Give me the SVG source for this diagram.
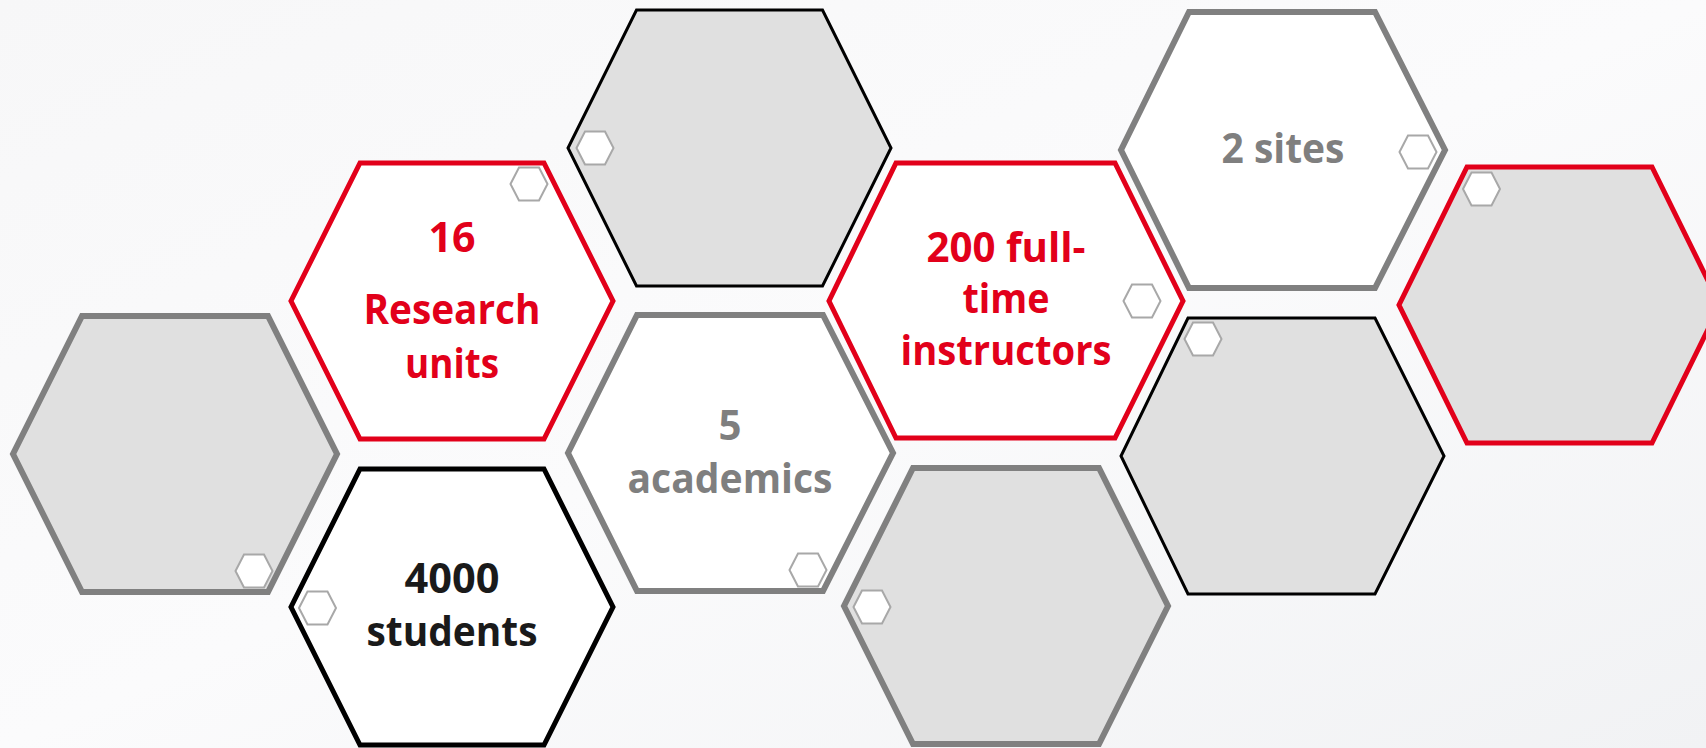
<svg xmlns="http://www.w3.org/2000/svg" xmlns:xlink="http://www.w3.org/1999/xlink" width="1706" height="748" viewBox="0 0 1706 748">
<defs>
<linearGradient id="bg" x1="0" y1="0" x2="1" y2="1">
<stop offset="0" stop-color="#f7f7f8"/>
<stop offset="0.5" stop-color="#fbfbfc"/>
<stop offset="1" stop-color="#f1f2f4"/>
</linearGradient>
<polygon id="ico" points="-18.5,0 -10,-16.5 10,-16.5 18.5,0 10,16.5 -10,16.5"/>
</defs>
<style>
.hex{stroke-linejoin:miter}
.red{stroke:#e2001a;stroke-width:5}
.blk{stroke:#000000}
.gry{stroke:#808080;stroke-width:6}
.wf{fill:#ffffff}
.gf{fill:#e0e0e0}
.ico{fill:#ffffff;stroke:#a8a8a8;stroke-width:2}
text{font-family:"Open Sans","Noto Sans","Liberation Sans",sans-serif;font-weight:700;font-size:41px;text-anchor:middle}
.tr{fill:#e2001a}
.tg{fill:#7f7f7f}
.tk{fill:#1a1a1a}
</style>
<rect x="0" y="0" width="1706" height="748" fill="url(#bg)"/>
<g id="connectors"/>
<g id="hexA">
<polygon class="hex blk gf" stroke-width="3" points="636.5,10 822.5,10 891,148 822.5,286 636.5,286 568,148"/>
<use href="#ico" class="ico" x="595" y="148"/>
</g>
<g id="hexB">
<polygon class="hex red wf" points="360,163 544,163 613,301 544,439 360,439 291,301"/>
<use href="#ico" class="ico" x="529" y="184"/>
<text class="tr" x="452" y="252" textLength="47" lengthAdjust="spacingAndGlyphs">16</text>
<text class="tr" x="452" y="324" textLength="177" lengthAdjust="spacingAndGlyphs">Research</text>
<text class="tr" x="452" y="378" textLength="94" lengthAdjust="spacingAndGlyphs">units</text>
</g>
<g id="hexC">
<polygon class="hex gry gf" points="82,316 268,316 337,454 268,592 82,592 13,454"/>
<use href="#ico" class="ico" x="254" y="571"/>
</g>
<g id="hexD">
<polygon class="hex blk wf" stroke-width="5" points="360,469 544,469 613,607 544,745 360,745 291,607"/>
<use href="#ico" class="ico" x="317.5" y="608"/>
<text class="tk" x="452" y="593" textLength="95" lengthAdjust="spacingAndGlyphs">4000</text>
<text class="tk" x="452" y="646" textLength="171" lengthAdjust="spacingAndGlyphs">students</text>
</g>
<g id="hexE">
<polygon class="hex gry wf" points="637,315 823,315 893,453 823,591 637,591 568,453"/>
<use href="#ico" class="ico" x="808" y="570"/>
<text class="tg" x="730" y="440" textLength="23" lengthAdjust="spacingAndGlyphs">5</text>
<text class="tg" x="730" y="493" textLength="205" lengthAdjust="spacingAndGlyphs">academics</text>
</g>
<g id="hexF">
<polygon class="hex red wf" points="896,163 1115,163 1183,301 1115,438 896,438 829,301"/>
<use href="#ico" class="ico" x="1142" y="301"/>
<text class="tr" x="1006" y="262" textLength="159" lengthAdjust="spacingAndGlyphs">200 full-</text>
<text class="tr" x="1006" y="313" textLength="87" lengthAdjust="spacingAndGlyphs">time</text>
<text class="tr" x="1006" y="365" textLength="211" lengthAdjust="spacingAndGlyphs">instructors</text>
</g>
<g id="hexG">
<polygon class="hex gry wf" points="1189,12 1375,12 1445,150 1375,288 1189,288 1121,150"/>
<use href="#ico" class="ico" x="1418" y="152"/>
<text class="tg" x="1283" y="163" textLength="123" lengthAdjust="spacingAndGlyphs">2 sites</text>
</g>
<g id="hexH">
<polygon class="hex red gf" points="1467,167 1652,167 1720,305 1652,443 1467,443 1399,305"/>
<use href="#ico" class="ico" x="1481.5" y="189"/>
</g>
<g id="hexI">
<polygon class="hex blk gf" stroke-width="3" points="1188,318 1375,318 1444,456 1375,594 1188,594 1121,456"/>
<use href="#ico" class="ico" x="1203" y="339"/>
</g>
<g id="hexJ">
<polygon class="hex gry gf" points="913,468 1099,468 1168,606 1099,744 913,744 844,606"/>
<use href="#ico" class="ico" x="872" y="607"/>
</g>
</svg>
